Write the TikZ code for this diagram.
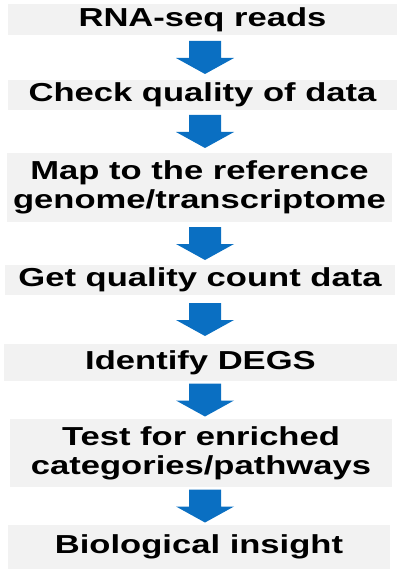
\documentclass[tikz,border=0pt]{standalone}
\usepackage{fontspec}
\setmainfont{Liberation Sans}[FakeStretch=1.33]
\usetikzlibrary{calc}
\definecolor{stepgray}{HTML}{F2F2F2}
\definecolor{arrowblue}{HTML}{0A6FC2}
% block arrow centred in the gap between two stacked steps
\newcommand\flowarrow[2]{%
  \path ($(#1.south -| ax)!.5!(#2.north -| ax)$) coordinate (m-#1);
  \fill[arrowblue] ([shift={(-16,-16.5)}]m-#1) -- ([shift={(16,-16.5)}]m-#1)
    -- ([shift={(16,0.5)}]m-#1) -- ([shift={(29,0.5)}]m-#1)
    -- ([shift={(0,16.5)}]m-#1) -- ([shift={(-29,0.5)}]m-#1)
    -- ([shift={(-16,0.5)}]m-#1) -- cycle;}
\begin{document}
\begin{tikzpicture}[x=1pt,y=-1pt,
  stepbox/.style={fill=stepgray, inner sep=0pt, align=center,
    font=\fontsize{26}{29}\selectfont\bfseries}]
\useasboundingbox (0,0) rectangle (397,569);
\coordinate (ax) at (205,0);
\node[stepbox, minimum width=389pt, minimum height=31pt] (s1) at (202.5,19.5) {RNA-seq reads};
\node[stepbox, minimum width=389pt, minimum height=30pt] (s2) at (202.5,95) {Check quality of data};
\node[stepbox, minimum width=385pt, minimum height=69pt] (s3) at (199.5,187.5) {Map to the reference\\genome/transcriptome};
\node[stepbox, minimum width=390pt, minimum height=30pt] (s4) at (200,280) {Get quality count data};
\node[stepbox, minimum width=393pt, minimum height=37pt] (s5) at (200.5,362.5) {Identify DEGS};
\node[stepbox, minimum width=382pt, minimum height=68pt] (s6) at (201,453) {Test for enriched\\categories/pathways};
\node[stepbox, minimum width=382pt, minimum height=44pt] (s7) at (199,547) {Biological insight};
\flowarrow{s1}{s2}
\flowarrow{s2}{s3}
\flowarrow{s3}{s4}
\flowarrow{s4}{s5}
\flowarrow{s5}{s6}
\flowarrow{s6}{s7}
\end{tikzpicture}
\end{document}
